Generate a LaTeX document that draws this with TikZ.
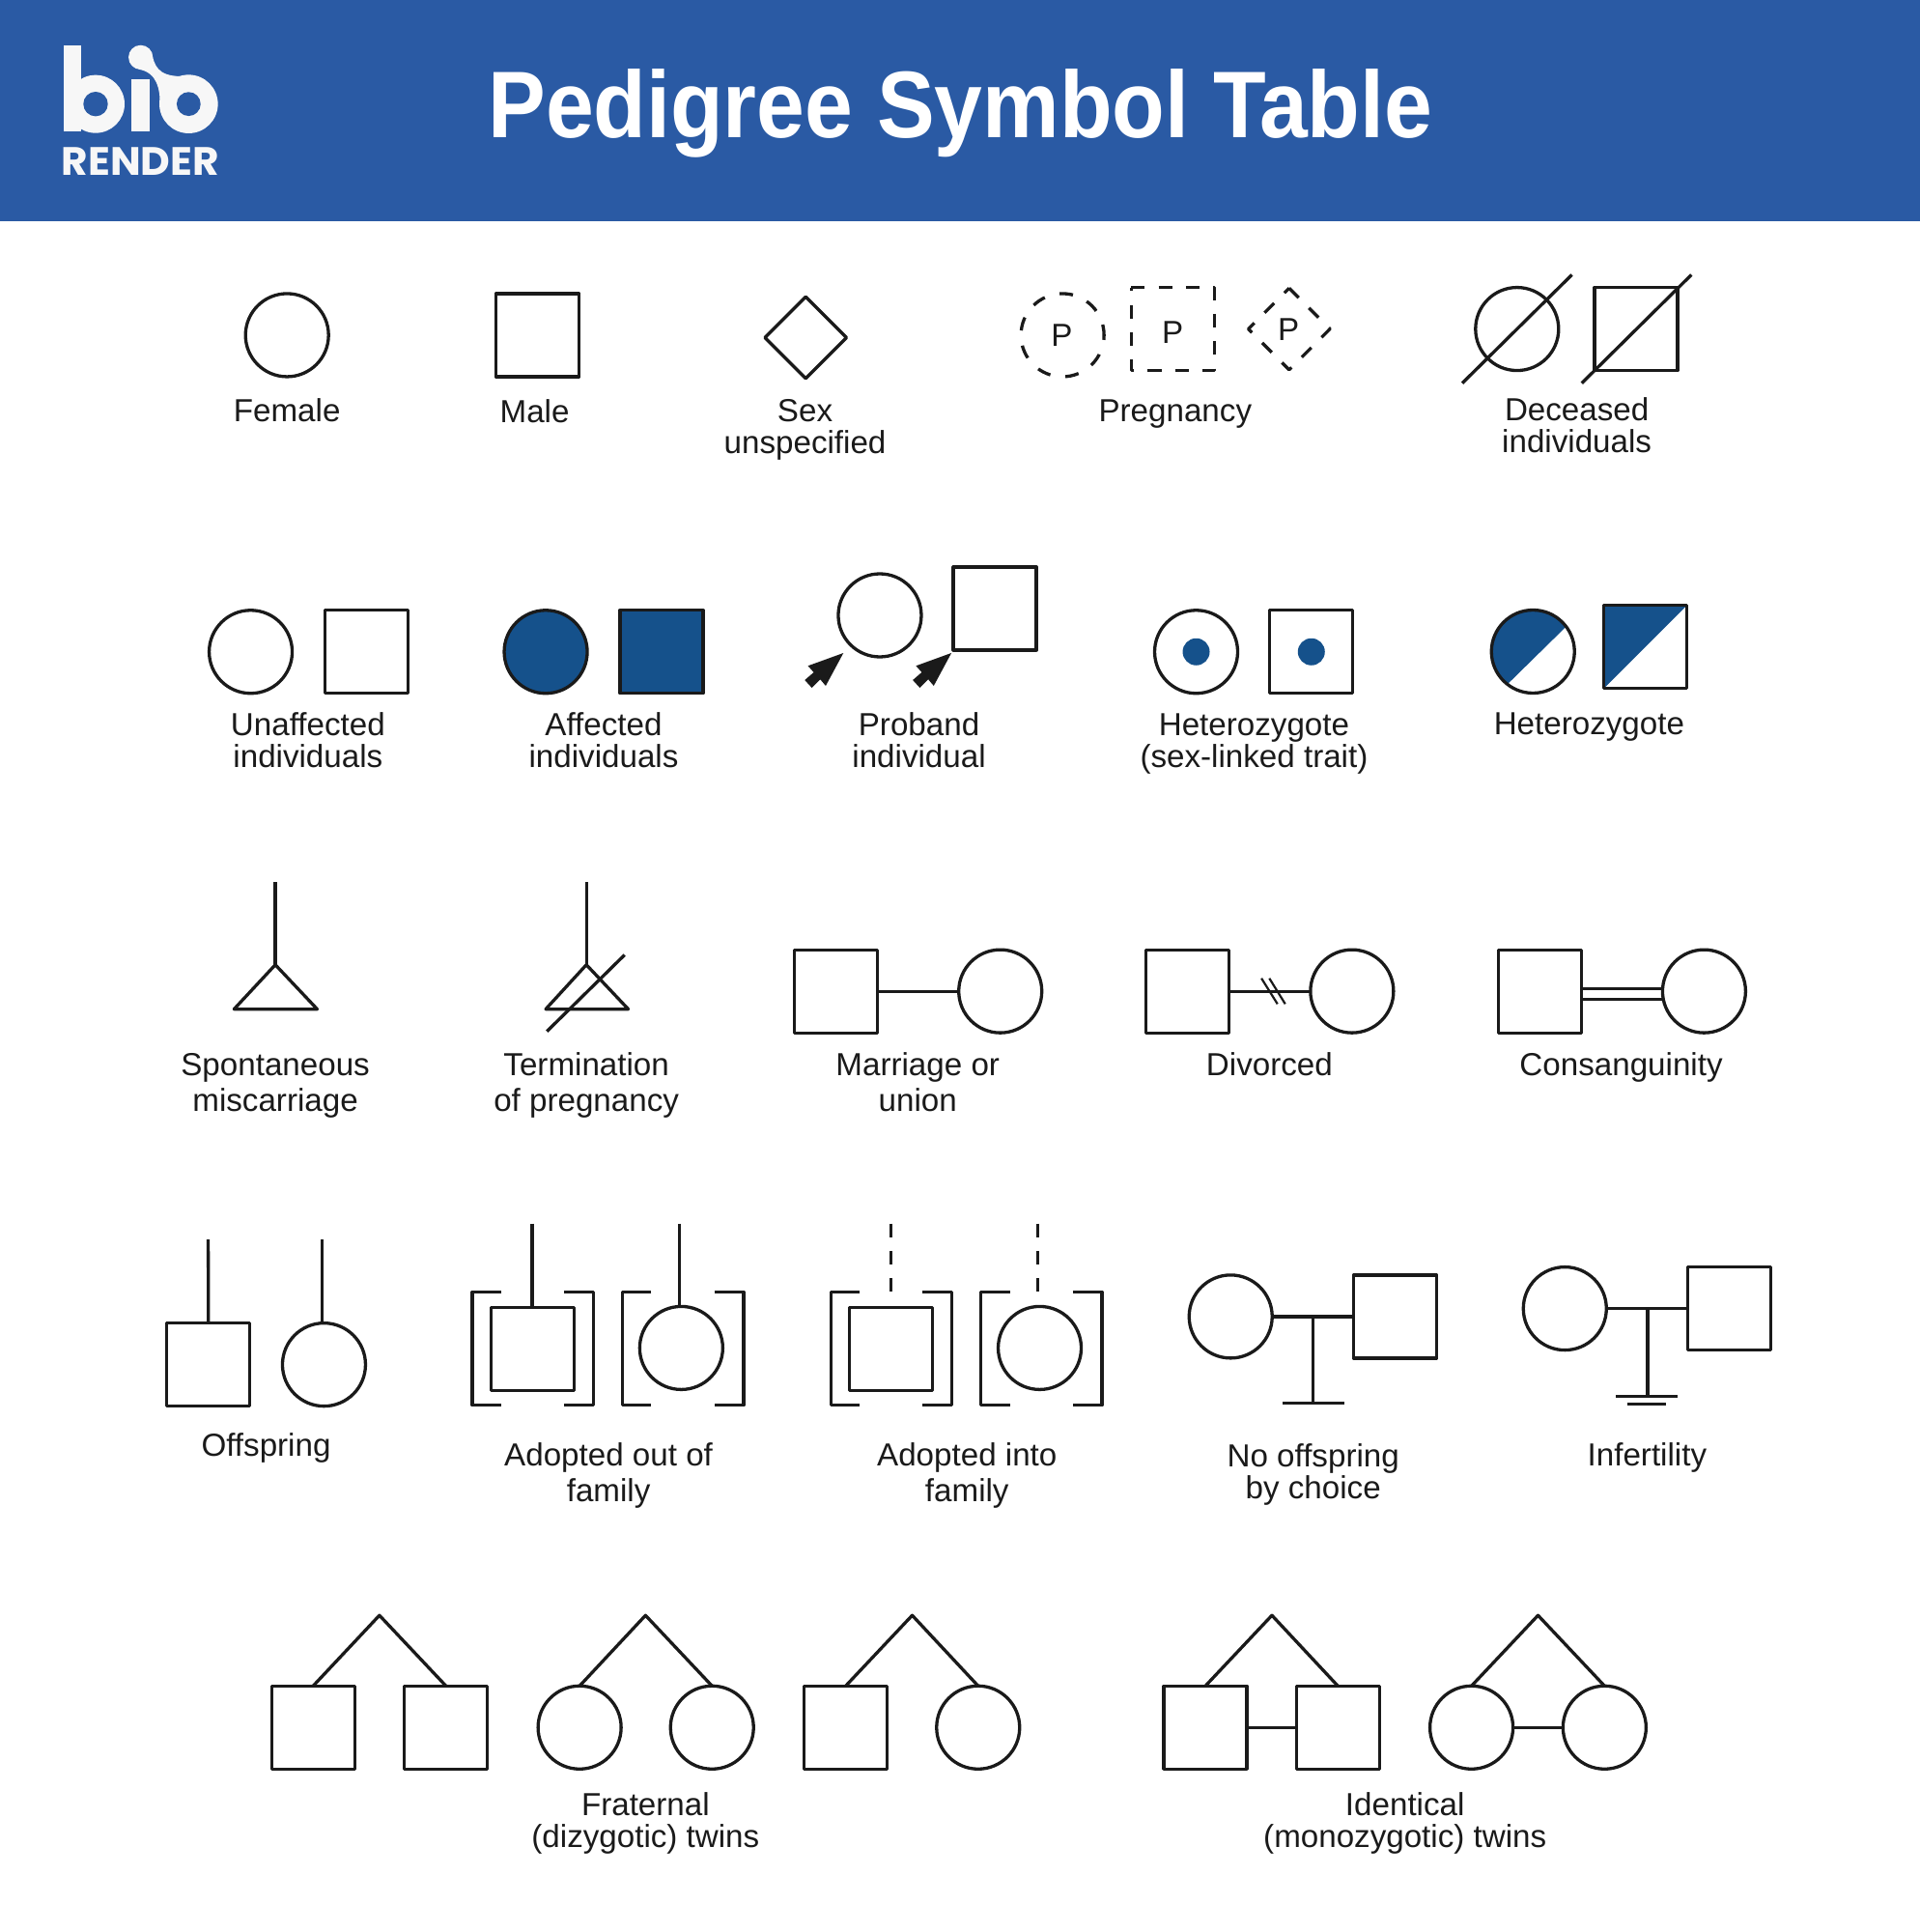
\documentclass[tikz,border=0pt]{standalone}
\usepackage{fontspec}
\usetikzlibrary{shapes.geometric}
\setmainfont{Liberation Sans}
\newfontfamily\lblfont{Liberation Sans}[FakeStretch=1.005]
\newfontfamily\ttlfont{Liberation Sans}[FakeStretch=0.913]
\newfontfamily\logofont{Poppins}[FakeStretch=1.03]
\definecolor{hdr}{HTML}{2A5AA4}
\definecolor{ink}{HTML}{1A1A1A}
\definecolor{aff}{HTML}{15518B}
\definecolor{logow}{HTML}{F7F7F7}
\newcommand{\probarrow}[3]{\fill[ink] ([shift={(#2,#3)}]#1.center) -- ++(-36.7pt,-13.3pt) -- ++(6pt,-6.7pt) -- ++(-9.3pt,-8pt) -- ++(7.3pt,-8pt) -- ++(8.7pt,8.7pt) -- ++(5.7pt,-6.7pt) -- cycle;}
\tikzset{
  ln/.style={draw=ink,line width=3.3pt,line join=round},
  circ/.style={ln,circle,minimum size=86pt,inner sep=0pt,outer sep=0pt},
  sq/.style={ln,rectangle,minimum size=86pt,inner sep=0pt,outer sep=0pt},
  dia/.style={ln,diamond,aspect=1,minimum size=84.5pt,inner sep=0pt,outer sep=0pt},
  lbl/.style={anchor=base,align=center,inner sep=0pt,text=ink,font=\lblfont\fontsize{33}{33}\selectfont},
  lblt/.style={lbl,font=\lblfont\fontsize{33}{37}\selectfont},
  dsh/.style={dash pattern=on 14.17pt off 14.17pt},
  thin2/.style={draw=ink,line width=2.2pt}
}
\begin{document}
\begin{tikzpicture}[x=1.2755pt,y=-1.2755pt]
\useasboundingbox (0,0) rectangle (1558,1568);
\fill[white] (0,0) rectangle (1558,1568);
\fill[hdr] (0,0) rectangle (1560,179.5);
% logo
\begin{scope}[x=.33333pt,y=-.33333pt]
\fill[logow] (198,141) rectangle (253,408);
\fill[logow] (297,323) circle[radius=30pt];
\fill[hdr] (297,323) circle[radius=12.7pt];
\fill[logow] (407,245) rectangle (464,408);
\fill[logow] (437,178) circle[radius=12.6pt];
\fill[logow] (470,160) .. controls (480,205) and (490,235) .. (560,237) -- (520,300) -- (497,323) .. controls (497,280) and (490,225) .. (430,215) -- cycle;
\fill[logow] (586,323) circle[radius=30.3pt];
\fill[hdr] (586,323) circle[radius=12.4pt];
\end{scope}
\node[anchor=base,inner sep=0pt,text=logow,font=\logofont\bfseries\fontsize{41}{41}\selectfont] (logotext) at (114,142) {RENDER};
\node[anchor=base,inner sep=0pt,text=white,font=\ttlfont\bfseries\fontsize{98}{98}\selectfont] (title) at (779.5,112) {Pedigree Symbol Table};

% Row 1
\node[circ] (fem) at (233,272) {};
\node[lbl] (femL) at (233,342) {Female};
\node[sq] (mal) at (436.3,272) {};
\node[lbl] (malL) at (434,343) {Male};
\node[dia] (sex) at (654,274) {};
\node[lbl] (sexL) at (653.5,368) {Sex\\unspecified};

\node[circ,dash pattern=on 14pt off 15.8pt,dash phase=3pt] (pc) at (862.5,272) {};
\node[lbl] (pcP) at (862,281) {P};
\node[sq,draw=none] (ps) at (952,267) {};
\draw[ln,dsh,line cap=butt] (ps.north west) -- (ps.north east) -- (ps.south east) -- (ps.south west) -- cycle;
\node[lbl] (psP) at (952,279) {P};
\node[dia,draw=none] (pd) at (1046.5,267) {};
\draw[ln,dash pattern=on 14pt off 15pt] (pd.north) -- (pd.east) -- (pd.south) -- (pd.west) -- cycle;
\node[lbl] (pdP) at (1046,276) {P};
\node[lbl] (pL) at (954,342) {Pregnancy};

\node[circ] (dc) at (1231.5,267) {};
\coordinate (dc1) at (1187,311);
\coordinate (dc2) at (1276,223);
\draw[ln] (dc1) -- (dc2);
\node[sq] (ds) at (1328,267) {};
\coordinate (ds1) at (1284,311);
\coordinate (ds2) at (1373,223);
\draw[ln] (ds1) -- (ds2);
\node[lbl] (dL) at (1280,367) {Deceased\\individuals};

% Row 2
\node[circ] (uc) at (203.5,529) {};
\node[sq] (us) at (297.3,529) {};
\node[lbl] (uL) at (250,623) {Unaffected\\individuals};
\node[circ,fill=aff] (ac) at (443,529) {};
\node[sq,fill=aff] (as) at (537,529) {};
\node[lbl] (aL) at (490,623) {Affected\\individuals};
\node[circ] (prc) at (714.2,499.4) {};
\node[sq] (prs) at (807.6,493.9) {};
\probarrow{prc}{-37.7pt}{-39pt}
\probarrow{prs}{-45pt}{-46pt}
\node[lbl] (prL) at (746,623) {Proband\\individual};
\node[circ] (hc) at (971,529) {};
\fill[aff] (hc.center) circle[radius=14pt];
\node[sq] (hs) at (1064.5,529) {};
\fill[aff] (hs.center) circle[radius=14pt];
\node[lbl] (hL) at (1018,623) {Heterozygote\\(sex-linked trait)};
\node[circ,draw=none] (h2a) at (1244.4,528.8) {};
\fill[aff] (h2a.37) arc[start angle=37,end angle=232,radius=43pt] -- cycle;
\node[circ] (h2c) at (h2a) {};
\node[sq,draw=none] (h2b) at (1335.8,525) {};
\fill[aff] (h2b.north west) -- (h2b.north east) -- (h2b.south west) -- cycle;
\node[sq] (h2s) at (h2b) {};
\node[lbl] (h2L) at (1290,596) {Heterozygote};

% Row 3
\coordinate (m0) at (223.5,716); \coordinate (m1) at (223.5,783);
\coordinate (m2) at (190,819); \coordinate (m3) at (257.5,819);
\draw[ln] (m0) -- (m1);
\draw[ln] (m1) -- (m2) -- (m3) -- cycle;
\node[lblt] (mL) at (223.5,902) {Spontaneous\\miscarriage};
\coordinate (t0) at (476,716); \coordinate (t1) at (476,783);
\coordinate (t2) at (443,819); \coordinate (t3) at (510,819);
\coordinate (t4) at (444,837); \coordinate (t5) at (507,775);
\draw[ln] (t0) -- (t1);
\draw[ln] (t1) -- (t2) -- (t3) -- cycle;
\draw[ln] (t4) -- (t5);
\node[lblt] (tL) at (476,902) {Termination\\of pregnancy};
\node[sq] (ms) at (678.3,804.5) {};
\node[circ] (mc) at (812,804.5) {};
\draw[ln] (ms.east) -- (mc.west);
\node[lblt] (msL) at (745,902) {Marriage or\\union};
\node[sq] (ds3) at (964,804.5) {};
\node[circ] (dc3) at (1097.5,804.5) {};
\draw[ln] (ds3.east) -- (dc3.west);
\coordinate (sl1) at (1024,794); \coordinate (sl2) at (1037,814.8);
\coordinate (sl3) at (1030.4,794); \coordinate (sl4) at (1043.3,814.8);
\draw[thin2] (sl1) -- (sl2);
\draw[thin2] (sl3) -- (sl4);
\node[lblt] (dL3) at (1030.5,873) {Divorced};
\node[sq] (cs) at (1250,804.5) {};
\node[circ] (cc) at (1383.3,804.5) {};
\draw[ln] ([yshift=3pt]cs.east) -- ([yshift=3pt]cc.west);
\draw[ln] ([yshift=-8.6pt]cs.east) -- ([yshift=-8.6pt]cc.west);
\node[lblt] (cL) at (1316,873) {Consanguinity};

% Row 4
\node[sq] (os) at (169.2,1107.5) {};
\node[circ] (oc) at (263,1107.5) {};
\coordinate (o1) at (169,1006); \coordinate (o2) at (261.5,1006);
\draw[ln] (o1) -- (os.north);
\draw[ln] (o2) -- (o2 |- oc.north);
\node[lbl] (oL) at (216,1182) {Offspring};

\node[sq] (aos) at (432.2,1095) {};
\coordinate (ao1) at (432,993);
\draw[ln] (ao1) -- (ao1 |- aos.north);
\draw[ln] (407,1048.5) -- (383.4,1048.5) -- (383.4,1140.5) -- (407,1140.5);
\draw[ln] (458,1048.5) -- (482,1048.5) -- (482,1140.5) -- (458,1140.5);
\node[circ] (aoc) at (553,1094) {};
\coordinate (ao2) at (551.5,993);
\draw[ln] (ao2) -- (ao2 |- aoc.north);
\draw[ln] (528.7,1048.5) -- (505.4,1048.5) -- (505.4,1140.5) -- (528.7,1140.5);
\draw[ln] (580,1048.5) -- (603.7,1048.5) -- (603.7,1140.5) -- (580,1140.5);
\node[lblt] (aoL) at (494,1219) {Adopted out of\\family};

\node[sq] (ais) at (723,1095) {};
\coordinate (ai1) at (723,993); \coordinate (ai1b) at (723,1049);
\draw[ln,dsh] (ai1) -- (ai1b);
\draw[ln] (698,1048.5) -- (674.5,1048.5) -- (674.5,1140.5) -- (698,1140.5);
\draw[ln] (749,1048.5) -- (772.5,1048.5) -- (772.5,1140.5) -- (749,1140.5);
\node[circ] (aic) at (844,1094) {};
\coordinate (ai2) at (842.5,993); \coordinate (ai2b) at (842.5,1049);
\draw[ln,dsh] (ai2) -- (ai2b);
\draw[ln] (820,1048.5) -- (796,1048.5) -- (796,1140.5) -- (820,1140.5);
\draw[ln] (871,1048.5) -- (894.5,1048.5) -- (894.5,1140.5) -- (871,1140.5);
\node[lblt] (aiL) at (785,1219) {Adopted into\\family};

\node[circ] (nc) at (999,1068.5) {};
\node[sq] (ns) at (1132.5,1068.5) {};
\draw[ln] (nc.east) -- (ns.west);
\coordinate (nb) at (1066,1139);
\coordinate (nb1) at (1041,1139); \coordinate (nb2) at (1091,1139);
\draw[ln] (nb |- nc.east) -- (nb);
\draw[ln] (nb1) -- (nb2);
\node[lbl] (nL) at (1066,1216) {No offspring\\by choice};

\node[circ] (ic) at (1270.3,1062) {};
\node[sq] (is) at (1403.5,1062) {};
\draw[ln] (ic.east) -- (is.west);
\coordinate (ib) at (1337.5,1133);
\coordinate (ib1) at (1312,1133); \coordinate (ib2) at (1361.6,1133);
\coordinate (ib3) at (1321,1139.5); \coordinate (ib4) at (1352.4,1139.5);
\draw[ln] (ib |- ic.east) -- (ib);
\draw[ln] (ib1) -- (ib2);
\draw[ln] (ib3) -- (ib4);
\node[lbl] (iL) at (1337,1190) {Infertility};

% Row 5
\node[sq] (f1) at (254.2,1402) {};
\node[sq] (f2) at (362,1402) {};
\coordinate (fa) at (308,1311);
\draw[ln] (f1.north) -- (fa) -- (f2.north);
\node[circ] (f3) at (470.5,1402) {};
\node[circ] (f4) at (578,1402) {};
\coordinate (fb) at (524,1311);
\draw[ln] (f3.north) -- (fb) -- (f4.north);
\node[sq] (f5) at (686.5,1402) {};
\node[circ] (f6) at (794,1402) {};
\coordinate (fc) at (740.5,1311);
\draw[ln] (f5.north) -- (fc) -- (f6.north);
\node[lbl] (fL) at (524,1499) {Fraternal\\(dizygotic) twins};

\node[sq] (i1) at (978.5,1402) {};
\node[sq] (i2) at (1086,1402) {};
\coordinate (ia) at (1032.5,1311);
\draw[ln] (i1.north) -- (ia) -- (i2.north);
\draw[ln] (i1.east) -- (i2.west);
\node[circ] (i3) at (1194.5,1402) {};
\node[circ] (i4) at (1302.5,1402) {};
\coordinate (ic2) at (1248.5,1311);
\draw[ln] (i3.north) -- (ic2) -- (i4.north);
\draw[ln] (i3.east) -- (i4.west);
\node[lbl] (idL) at (1140.5,1499) {Identical\\(monozygotic) twins};
\end{tikzpicture}
\end{document}
